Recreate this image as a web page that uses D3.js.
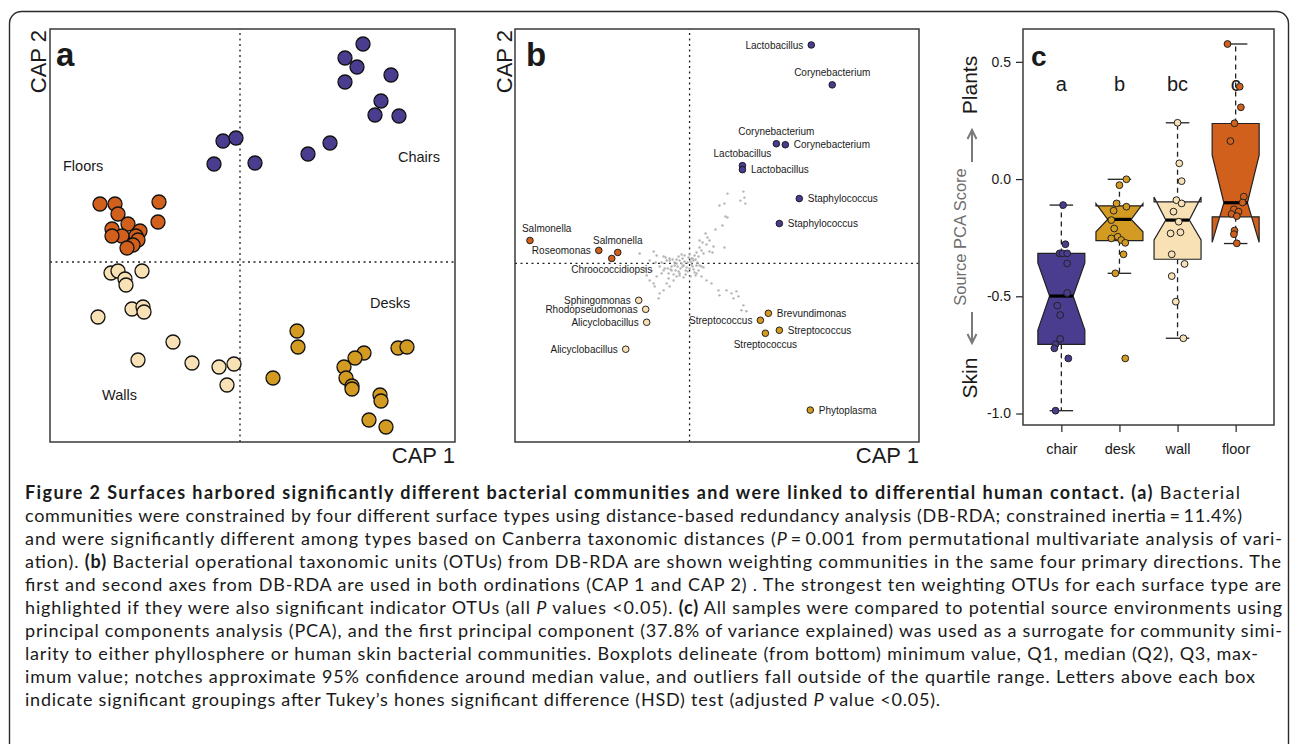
<!DOCTYPE html>
<html>
<head>
<meta charset="utf-8">
<script src="https://cdnjs.cloudflare.com/ajax/libs/d3/7.8.5/d3.min.js"></script>
<style>
  body { margin: 0; background: #fff; }
  svg { display: block; }
  text { font-family: "Liberation Sans", Arial, sans-serif; fill: #1a1a1a; }
  .caption text { font-family: Lato, "Open Sans", sans-serif; white-space: pre; }
</style>
</head>
<body>
<script>
// ---- panel a : sample scores on CAP 1 / CAP 2 ----
var chairScores = [[1.23,2.18],[1.05,2.04],[1.17,1.95],[1.51,1.87],[1.05,1.80],[1.41,1.61],[1.35,1.47],
  [1.59,1.46],[0.90,1.19],[0.68,1.08],[-0.17,1.21],[-0.04,1.24],[-0.26,0.98],[0.15,0.99]];
var floorScores = [[-1.40,0.58],[-1.25,0.58],[-0.81,0.60],[-1.22,0.48],[-0.82,0.40],[-1.28,0.33],[-1.12,0.38],
  [-1.00,0.31],[-1.18,0.26],[-1.28,0.26],[-1.04,0.26],[-1.02,0.22],[-1.07,0.17],[-1.13,0.14]];
var wallScores = [[-1.29,-0.11],[-1.22,-0.09],[-1.15,-0.17],[-1.14,-0.23],[-0.98,-0.09],[-1.08,-0.47],[-0.97,-0.45],
  [-0.96,-0.50],[-1.42,-0.55],[-0.67,-0.80],[-1.02,-0.98],[-0.48,-1.01],[-0.21,-1.05],[-0.06,-1.02],[-0.13,-1.23]];
var deskScores = [[0.57,-0.69],[0.58,-0.85],[0.33,-1.16],[1.24,-0.91],[1.15,-0.96],[1.04,-1.05],[1.06,-1.16],
  [1.12,-1.24],[1.12,-1.27],[1.58,-0.86],[1.67,-0.85],[1.40,-1.33],[1.41,-1.39],[1.29,-1.58],[1.46,-1.65]];

// ---- panel b : indicator OTUs ----
var otuNames = ['Lactobacillus','Corynebacterium','Corynebacterium','Corynebacterium','Lactobacillus','Lactobacillus',
  'Staphylococcus','Staphylococcus',
  'Salmonella','Roseomonas','Salmonella','Chroococcidiopsis',
  'Sphingomonas','Rhodopseudomonas','Alicyclobacillus','Alicyclobacillus',
  'Brevundimonas','Streptococcus','Streptococcus','Streptococcus','Phytoplasma'];
var otuGroup = ['chair','chair','chair','chair','chair','chair','chair','chair',
  'floor','floor','floor','floor','wall','wall','wall','wall',
  'desk','desk','desk','desk','desk'];
var otuX = [1.22,1.43,0.87,0.96,0.53,0.53,1.10,0.90, -1.60,-0.91,-0.72,-0.78, -0.51,-0.44,-0.43,-0.64, 0.79,0.71,0.90,0.76,1.21];
var otuY = [2.19,1.79,1.20,1.19,0.98,0.94,0.65,0.40, 0.23,0.13,0.11,0.05, -0.37,-0.46,-0.59,-0.86, -0.50,-0.57,-0.67,-0.70,-1.47];
var otuLabelSide = ['l','t','t','r','t','r','r','r', 'ts','l','t','b', 'l','l','l','l', 'r','l','r','b','r'];
// remaining OTUs, grey background
var otuCloud = [[0.38,0.70],[0.54,0.72],[0.55,0.66],[0.51,0.63],[0.56,0.60],[0.30,0.58],[0.35,0.60],[0.36,0.47],
  [0.38,0.46],[0.26,0.34],[0.33,0.38],[0.20,0.23],[0.18,0.26],[0.13,0.21],[0.17,0.19],[0.10,0.16],[0.12,0.13],
  [0.07,0.11],[0.05,0.08],[0.23,0.11],[0.35,0.16],[0.16,0.30],[0.10,0.23],[0.20,0.12],[0.09,0.07],[0.03,0.05],
  [0.14,0.10],[0.24,0.17],
  [-0.15,0.01],[-0.10,0.03],[-0.06,-0.02],[-0.02,0.01],[0.00,-0.05],[0.02,-0.01],[-0.04,-0.07],[-0.09,-0.05],
  [-0.12,-0.03],[0.04,0.03],[0.07,-0.02],[0.09,-0.07],[-0.07,0.05],[-0.18,-0.03],[-0.14,-0.07],[-0.01,0.06],
  [0.05,-0.09],[-0.20,0.03],[-0.24,0.06],[-0.28,0.01],[-0.04,-0.11],[-0.10,-0.12],[0.01,-0.13],[0.08,0.01],
  [0.12,-0.03],[-0.22,-0.05],[-0.16,-0.11],[-0.26,-0.07],[-0.30,-0.03],[-0.34,0.01],[-0.05,0.08],[-0.11,0.07],
  [-0.08,0.00],[-0.05,0.02],[-0.03,-0.04],[0.01,0.02],[0.03,-0.03],[-0.07,-0.03],[-0.13,0.00],[-0.11,-0.08],
  [-0.02,-0.08],[0.04,-0.06],[0.06,0.04],[-0.17,0.04],[-0.19,-0.06],[0.00,0.09],[0.02,0.05],[-0.08,0.09],
  [-0.13,0.04],[-0.06,-0.14],[0.06,-0.12],[-0.21,-0.10],
  [-0.50,0.10],[-0.36,0.12],[-0.33,0.08],[-0.26,0.07],[-0.23,0.03],[-0.20,0.05],[-0.40,0.03],[-0.38,-0.07],
  [-0.33,-0.13],[-0.28,-0.10],[-0.40,-0.17],[-0.35,-0.23],[-0.31,-0.35],[-0.26,-0.27],[-0.23,-0.20],[-0.20,-0.23],
  [-0.16,-0.17],[-0.13,-0.13],[-0.21,-0.15],[-0.10,-0.10],[-0.18,-0.07],[-0.25,-0.05],[-0.15,-0.02],[-0.36,-0.20],
  [-0.45,-0.05],[-0.30,-0.30],[-0.43,-0.12],
  [0.07,-0.10],[0.12,-0.13],[0.17,-0.17],[0.22,-0.20],[0.29,-0.27],[0.37,-0.27],[0.42,-0.30],[0.47,-0.28],
  [0.49,-0.33],[0.44,-0.35],[0.54,-0.42],[0.52,-0.47],[0.57,-0.48],[0.30,-0.32],[0.10,-0.02],[0.14,-0.04]];

// ---- panel c : source PCA score per surface ----
var boxCats = ['chair','desk','wall','floor'];
var boxLetters = ['a','b','bc','c'];
var boxQ1 = [-0.705,-0.263,-0.342,-0.161];
var boxMedian = [-0.499,-0.172,-0.175,-0.101];
var boxQ3 = [-0.317,-0.114,-0.097,0.237];
var notchLo = [-0.644,-0.225,-0.260,-0.270];
var notchHi = [-0.358,-0.105,-0.077,0.102];
var whiskLo = [-0.988,-0.402,-0.679,-0.275];
var whiskHi = [-0.111,-0.001,0.240,0.576];
var chairPCA = [-0.111,-0.278,-0.317,-0.317,-0.317,-0.360,-0.486,-0.540,-0.580,-0.682,-0.705,-0.722,-0.765,-0.988];
var deskPCA = [-0.001,-0.026,-0.104,-0.118,-0.135,-0.175,-0.211,-0.246,-0.253,-0.260,-0.272,-0.321,-0.402,-0.765];
var wallPCA = [0.240,0.067,-0.009,-0.090,-0.104,-0.139,-0.182,-0.227,-0.232,-0.321,-0.362,-0.414,-0.523,-0.679];
var floorPCA = [0.576,0.394,0.306,0.238,0.162,-0.075,-0.100,-0.129,-0.139,-0.149,-0.158,-0.220,-0.235,-0.274];
// horizontal jitter of the points, in category steps
var chairJit = [0.03,0.07,-0.03,0.02,0.10,0.10,0.10,-0.07,-0.02,-0.02,-0.10,-0.12,0.12,-0.10];
var deskJit = [0.12,0,-0.05,0.12,-0.10,-0.14,-0.09,-0.03,-0.14,0.03,0.10,0.07,-0.07,0.10];
var wallJit = [0,0.03,0.07,-0.02,0.07,-0.07,0.02,0.05,-0.12,-0.10,0.12,-0.10,-0.03,0.10];
var floorJit = [-0.14,0.07,0.09,-0.02,-0.09,0.14,0.12,-0.03,0.05,-0.07,0.02,-0.02,-0.03,0.02];
var yTicks = [0.5, 0.0, -0.5, -1.0];

var surfaceColor = {chair: '#4a3c8e', desk: '#d39b22', wall: '#f9e1b6', floor: '#d2601d'};

var captionLines = [
  [['b', 'Figure 2 Surfaces harbored significantly different bacterial communities and were linked to differential human contact. (a)'], ['', ' Bacterial']],
  [['', 'communities were constrained by four different surface types using distance-based redundancy analysis (DB-RDA; constrained inertia\u2009=\u200911.4%)']],
  [['', 'and were significantly different among types based on Canberra taxonomic distances ('], ['i', 'P'], ['', '\u2009=\u20090.001 from permutational multivariate analysis of vari-']],
  [['', 'ation). '], ['b', '(b)'], ['', ' Bacterial operational taxonomic units (OTUs) from DB-RDA are shown weighting communities in the same four primary directions. The']],
  [['', 'first and second axes from DB-RDA are used in both ordinations (CAP 1 and CAP 2) . The strongest ten weighting OTUs for each surface type are']],
  [['', 'highlighted if they were also significant indicator OTUs (all '], ['i', 'P'], ['', ' values <0.05). '], ['b', '(c)'], ['', ' All samples were compared to potential source environments using']],
  [['', 'principal components analysis (PCA), and the first principal component (37.8% of variance explained) was used as a surrogate for community simi-']],
  [['', 'larity to either phyllosphere or human skin bacterial communities. Boxplots delineate (from bottom) minimum value, Q1, median (Q2), Q3, max-']],
  [['', 'imum value; notches approximate 95% confidence around median value, and outliers fall outside of the quartile range. Letters above each box']],
  [['', 'indicate significant groupings after Tukey\u2019s hones significant difference (HSD) test (adjusted '], ['i', 'P'], ['', ' value <0.05).']]
];
var captionEnds = [1240, 1242, 1282, 1281, 1281, 1282, 1282, 1258, 1255, 940];

var svg = d3.select('body').append('svg')
  .attr('width', 1290)
  .attr('height', 744);

svg.append('rect').attr('width', 1290).attr('height', 744).attr('fill', '#fff');

// outer rounded frame
svg.append('rect')
  .attr('x', 9.5).attr('y', 11.5)
  .attr('width', 1279).attr('height', 800)
  .attr('rx', 12)
  .attr('fill', 'none')
  .attr('stroke', '#2a2a2a')
  .attr('stroke-width', 1.4);

function frame(g, x, y) {
  g.append('rect')
    .attr('x', x.range()[0]).attr('y', y.range()[1])
    .attr('width', x.range()[1] - x.range()[0])
    .attr('height', y.range()[0] - y.range()[1])
    .attr('fill', 'none')
    .attr('stroke', '#3a3a3a')
    .attr('stroke-width', 1.5);
}

function crosshair(g, x, y) {
  g.append('line')
    .attr('x1', x(0)).attr('x2', x(0))
    .attr('y1', y.range()[0]).attr('y2', y.range()[1])
    .attr('stroke', '#222').attr('stroke-width', 1.3).attr('stroke-dasharray', '2,3.5');
  g.append('line')
    .attr('x1', x.range()[0]).attr('x2', x.range()[1])
    .attr('y1', y(0)).attr('y2', y(0))
    .attr('stroke', '#222').attr('stroke-width', 1.3).attr('stroke-dasharray', '2,3.5');
}

function capLabels(g, x, y, cap2x) {
  g.append('text')
    .attr('transform', 'translate(' + cap2x + ',' + (y.range()[1] + 1) + ') rotate(-90)')
    .attr('text-anchor', 'end')
    .style('font-size', '22px')
    .text('CAP 2');
  g.append('text')
    .attr('x', x.range()[1]).attr('y', 463)
    .attr('text-anchor', 'end')
    .style('font-size', '22px')
    .text('CAP 1');
}

// ---------- panel a ----------
var xa = d3.scaleLinear().domain([-1.9, 2.15]).range([50, 455]);
var ya = d3.scaleLinear().domain([-1.8, 2.33]).range([442, 29]);
var ga = svg.append('g');
crosshair(ga, xa, ya);
frame(ga, xa, ya);
capLabels(ga, xa, ya, 46);

ga.append('text').attr('x', 56).attr('y', 66)
  .style('font-size', '33px').style('font-weight', 'bold').text('a');

var groupsA = [['chair', chairScores], ['floor', floorScores], ['wall', wallScores], ['desk', deskScores]];
groupsA.forEach(function(grp) {
  ga.selectAll('circle.' + grp[0])
    .data(grp[1])
    .enter().append('circle')
    .attr('class', grp[0])
    .attr('cx', function(d) { return xa(d[0]); })
    .attr('cy', function(d) { return ya(d[1]); })
    .attr('r', 7)
    .attr('fill', surfaceColor[grp[0]])
    .attr('stroke', '#111')
    .attr('stroke-width', 1.3);
});

var aLabels = [['Floors', -1.77, 0.91], ['Chairs', 1.58, 1.00], ['Desks', 1.30, -0.46], ['Walls', -1.38, -1.38]];
aLabels.forEach(function(l) {
  ga.append('text').attr('x', xa(l[1])).attr('y', ya(l[2]))
    .style('font-size', '14.5px').text(l[0]);
});

// ---------- panel b ----------
var xb = d3.scaleLinear().domain([-1.75, 2.3]).range([515, 919]);
var yb = d3.scaleLinear().domain([-1.79, 2.35]).range([442, 29]);
var gb = svg.append('g');
crosshair(gb, xb, yb);
frame(gb, xb, yb);
capLabels(gb, xb, yb, 512);

gb.append('text').attr('x', 526).attr('y', 66)
  .style('font-size', '33px').style('font-weight', 'bold').text('b');

gb.selectAll('circle.cloud')
  .data(otuCloud)
  .enter().append('circle')
  .attr('class', 'cloud')
  .attr('cx', function(d) { return xb(d[0]); })
  .attr('cy', function(d) { return yb(d[1]); })
  .attr('r', 1.2)
  .attr('fill', '#b4b4b4');

var otus = otuNames.map(function(n, i) {
  return {name: n, group: otuGroup[i], x: otuX[i], y: otuY[i], side: otuLabelSide[i]};
});

gb.selectAll('circle.otu')
  .data(otus)
  .enter().append('circle')
  .attr('class', 'otu')
  .attr('cx', function(d) { return xb(d.x); })
  .attr('cy', function(d) { return yb(d.y); })
  .attr('r', 3.3)
  .attr('fill', function(d) { return surfaceColor[d.group]; })
  .attr('stroke', '#111')
  .attr('stroke-width', 0.9);

gb.selectAll('text.otu')
  .data(otus)
  .enter().append('text')
  .attr('class', 'otu')
  .style('font-size', '10px')
  .attr('x', function(d) {
    var px = xb(d.x);
    if (d.side == 'l') return px - 8;
    if (d.side == 'r') return px + 8.5;
    if (d.side == 'ts') return px - 8;
    return px;
  })
  .attr('y', function(d) {
    var py = yb(d.y);
    if (d.side == 't' || d.side == 'ts') return py - 8.5;
    if (d.side == 'b') return py + 15;
    return py + 3.6;
  })
  .attr('text-anchor', function(d) {
    if (d.side == 'l') return 'end';
    if (d.side == 'r' || d.side == 'ts') return 'start';
    return 'middle';
  })
  .text(function(d) { return d.name; });

// ---------- panel c ----------
var xc = d3.scalePoint().domain(boxCats).range([1023, 1274]).padding(0.66);
var yc = d3.scaleLinear().domain([-1.049, 0.64]).range([425, 29]);
var gc = svg.append('g');
var half = 23.5;
var step = xc.step();

gc.append('g')
  .attr('transform', 'translate(1023,0)')
  .call(d3.axisLeft(yc).tickValues(yTicks).tickSize(7).tickPadding(5)
    .tickFormat(function(d) { return d.toFixed(1); }))
  .call(function(g) { g.select('.domain').remove(); })
  .call(function(g) {
    g.selectAll('text').style('font-size', '14px').style('font-family', '"Liberation Sans", Arial, sans-serif').attr('fill', '#1a1a1a');
    g.selectAll('line').attr('stroke', '#222').attr('stroke-width', 1.2);
  });

gc.append('g')
  .attr('transform', 'translate(0,425)')
  .call(d3.axisBottom(xc).tickSize(7).tickPadding(12))
  .call(function(g) { g.select('.domain').remove(); })
  .call(function(g) {
    g.selectAll('text').style('font-size', '14.5px').style('font-family', '"Liberation Sans", Arial, sans-serif').attr('fill', '#1a1a1a');
    g.selectAll('line').attr('stroke', '#222').attr('stroke-width', 1.2);
  });

var boxes = boxCats.map(function(c, i) {
  return {cat: c, q1: boxQ1[i], med: boxMedian[i], q3: boxQ3[i], nlo: notchLo[i], nhi: notchHi[i],
    wlo: whiskLo[i], whi: whiskHi[i], letter: boxLetters[i]};
});

var bx = gc.selectAll('g.box').data(boxes).enter().append('g').attr('class', 'box');

// whiskers
bx.append('line')
  .attr('x1', function(d) { return xc(d.cat); }).attr('x2', function(d) { return xc(d.cat); })
  .attr('y1', function(d) { return yc(d.q3); }).attr('y2', function(d) { return yc(d.whi); })
  .attr('stroke', '#222').attr('stroke-width', 1.3).attr('stroke-dasharray', '5,4');
bx.append('line')
  .attr('x1', function(d) { return xc(d.cat); }).attr('x2', function(d) { return xc(d.cat); })
  .attr('y1', function(d) { return yc(d.q1); }).attr('y2', function(d) { return yc(d.wlo); })
  .attr('stroke', '#222').attr('stroke-width', 1.3).attr('stroke-dasharray', '5,4');
['whi', 'wlo'].forEach(function(k) {
  bx.append('line')
    .attr('x1', function(d) { return xc(d.cat) - half / 2; })
    .attr('x2', function(d) { return xc(d.cat) + half / 2; })
    .attr('y1', function(d) { return yc(d[k]); }).attr('y2', function(d) { return yc(d[k]); })
    .attr('stroke', '#222').attr('stroke-width', 1.3);
});

// notched box
bx.append('path')
  .attr('d', function(d) {
    var cx = xc(d.cat), n = half / 2;
    return d3.line()([
      [cx - half, yc(d.q1)], [cx - half, yc(d.nlo)], [cx - n, yc(d.med)], [cx - half, yc(d.nhi)],
      [cx - half, yc(d.q3)], [cx + half, yc(d.q3)], [cx + half, yc(d.nhi)], [cx + n, yc(d.med)],
      [cx + half, yc(d.nlo)], [cx + half, yc(d.q1)]
    ]) + 'Z';
  })
  .attr('fill', function(d) { return surfaceColor[d.cat]; })
  .attr('stroke', '#222')
  .attr('stroke-width', 1.2)
  .attr('stroke-linejoin', 'miter');

bx.append('line')
  .attr('x1', function(d) { return xc(d.cat) - half / 2; })
  .attr('x2', function(d) { return xc(d.cat) + half / 2; })
  .attr('y1', function(d) { return yc(d.med); }).attr('y2', function(d) { return yc(d.med); })
  .attr('stroke', '#000').attr('stroke-width', 3.2);

bx.append('text')
  .attr('x', function(d) { return xc(d.cat); })
  .attr('y', 91)
  .attr('text-anchor', 'middle')
  .style('font-size', '20px')
  .text(function(d) { return d.letter; });

// jittered samples
var pcaSets = [['chair', chairPCA, chairJit], ['desk', deskPCA, deskJit], ['wall', wallPCA, wallJit], ['floor', floorPCA, floorJit]];
pcaSets.forEach(function(s) {
  gc.selectAll('circle.' + s[0])
    .data(s[1])
    .enter().append('circle')
    .attr('class', s[0])
    .attr('cx', function(d, i) { return xc(s[0]) + s[2][i] * step; })
    .attr('cy', function(d) { return yc(d); })
    .attr('r', 3.4)
    .attr('fill', surfaceColor[s[0]])
    .attr('stroke', '#222')
    .attr('stroke-width', 1);
});

gc.append('rect')
  .attr('x', xc.range()[0]).attr('y', yc.range()[1])
  .attr('width', xc.range()[1] - xc.range()[0])
  .attr('height', yc.range()[0] - yc.range()[1])
  .attr('fill', 'none').attr('stroke', '#3a3a3a').attr('stroke-width', 1.5);

gc.append('text').attr('x', 1031).attr('y', 66)
  .style('font-size', '28px').style('font-weight', 'bold').text('c');

// y axis titles
gc.append('text')
  .attr('transform', 'translate(977,85) rotate(-90)')
  .attr('text-anchor', 'middle').style('font-size', '21px').text('Plants');
gc.append('text')
  .attr('transform', 'translate(977,378) rotate(-90)')
  .attr('text-anchor', 'middle').style('font-size', '21px').text('Skin');
gc.append('text')
  .attr('transform', 'translate(966,237) rotate(-90)')
  .attr('text-anchor', 'middle').style('font-size', '16.5px').style('fill', '#6e6e6e').text('Source PCA Score');

var arrowPts = [[162, 130], [312, 343]];
arrowPts.forEach(function(a) {
  var dir = a[1] < a[0] ? 1 : -1;
  gc.append('line').attr('x1', 972).attr('x2', 972).attr('y1', a[0]).attr('y2', a[1])
    .attr('stroke', '#7a7a7a').attr('stroke-width', 2);
  gc.append('path')
    .attr('d', 'M' + (972 - 4.5) + ',' + (a[1] + dir * 9) + 'L972,' + a[1] + 'L' + (972 + 4.5) + ',' + (a[1] + dir * 9))
    .attr('fill', 'none').attr('stroke', '#7a7a7a').attr('stroke-width', 2);
});

// ---------- caption ----------
var cap = svg.append('g').attr('class', 'caption');
captionLines.forEach(function(line, i) {
  var t = cap.append('text')
    .attr('x', 25)
    .attr('y', 498.5 + i * 23.1)
    .style('font-size', '18px');
  t.attr('textLength', captionEnds[i] - 25).attr('lengthAdjust', 'spacing');
  line.forEach(function(seg) {
    t.append('tspan')
      .style('font-weight', seg[0] == 'b' ? 'bold' : 'normal')
      .style('font-style', seg[0] == 'i' ? 'italic' : 'normal')
      .text(seg[1]);
  });
});
</script>
</body>
</html>
